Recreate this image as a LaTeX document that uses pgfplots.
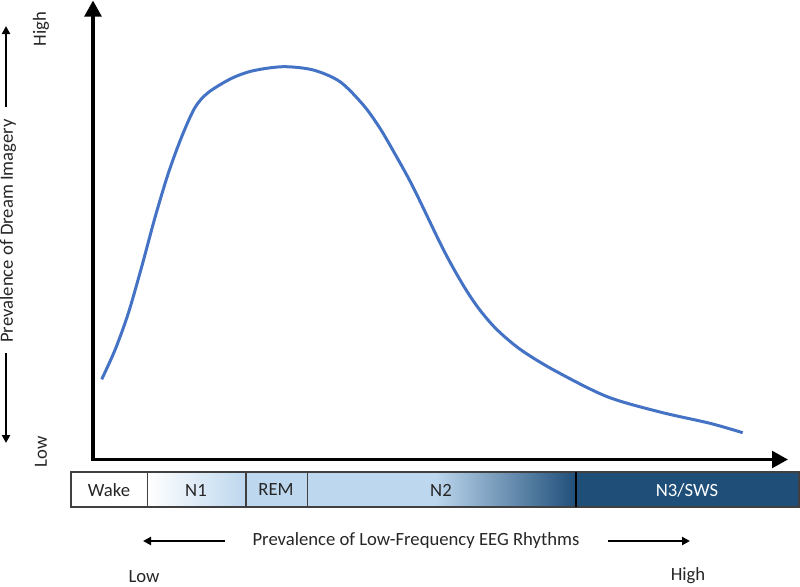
\documentclass[border=0pt]{standalone}
\usepackage{pgfplots}
\pgfplotsset{compat=1.18}
\usepackage{fontspec}
\setmainfont{Carlito}
\usetikzlibrary{arrows.meta}
\definecolor{curveblue}{HTML}{4472C4}
\definecolor{lightblue}{HTML}{BDD7EE}
\definecolor{darkblue}{HTML}{1F4E79}
\definecolor{boxline}{HTML}{404040}
\begin{document}
\begin{tikzpicture}
\begin{axis}[
  scale only axis, width=600pt, height=439.5pt,
  xmin=0, xmax=800, ymin=0, ymax=586, y dir=reverse,
  hide axis, clip=false,
]
\coordinate (tl) at (axis cs:0,0);
\coordinate (br) at (axis cs:800,586);
% stage bar
\fill[white] (axis cs:71,472) rectangle (axis cs:147.3,507);
\shade[left color=white, right color=lightblue] (axis cs:147.3,472) rectangle (axis cs:246,507);
\fill[lightblue] (axis cs:246,472) rectangle (axis cs:307.3,507);
\fill[lightblue] (axis cs:307.3,472) rectangle (axis cs:435,507);
\shade[left color=lightblue, right color=darkblue] (axis cs:435,472) rectangle (axis cs:576,507);
\fill[darkblue] (axis cs:576,472) rectangle (axis cs:799,507);
\draw[boxline, line width=1.1pt] (axis cs:71,472) rectangle (axis cs:799,507);
\draw[boxline, line width=1.1pt] (axis cs:147.3,472) -- (axis cs:147.3,507);
\draw[boxline, line width=1.1pt] (axis cs:246,472) -- (axis cs:246,507);
\draw[boxline, line width=1.1pt] (axis cs:307.3,472) -- (axis cs:307.3,507);
\draw[black, line width=1.1pt] (axis cs:576,472) -- (axis cs:576,507);
\begin{scope}[font=\fontsize{14}{16}\selectfont]
\node[text=black!85] at (axis cs:109,490) {Wake};
\node[text=black!85] at (axis cs:196,490) {N1};
\node[text=black!85] at (axis cs:276,490) {REM};
\node[text=black!85] at (axis cs:441,490) {N2};
\node[text=white] at (axis cs:687,490) {N3/SWS};
% bottom label
\node[text=black!85] at (axis cs:416,541) {Prevalence of Low-Frequency EEG Rhythms};
\node[text=black!85] at (axis cs:144,577) {Low};
\node[text=black!85] at (axis cs:688,576) {High};
% left label
\node[text=black!85, rotate=90] at (axis cs:8,231) {Prevalence of Dream Imagery};
\node[text=black!85, rotate=90] at (axis cs:41,29) {High};
\node[text=black!85, rotate=90] at (axis cs:41,452) {Low};
\end{scope}
% small arrows
\draw[black, line width=1.5pt, -{Triangle[length=6pt,width=6pt]}] (axis cs:225,541) -- (axis cs:143,541);
\draw[black, line width=1.5pt, -{Triangle[length=6pt,width=6pt]}] (axis cs:608,541) -- (axis cs:690,541);
\draw[black, line width=1.5pt, -{Triangle[length=6pt,width=6pt]}] (axis cs:6,107) -- (axis cs:6,26);
\draw[black, line width=1.5pt, -{Triangle[length=6pt,width=6pt]}] (axis cs:6,353) -- (axis cs:6,443);
% main axes
\draw[black, line width=2.5pt, {Triangle[length=12pt,width=12.5pt]}-{Triangle[length=12pt,width=12.5pt]}, line join=miter]
  (axis cs:93,0.5) -- (axis cs:93,459.5) -- (axis cs:788,459.5);
% curve
\addplot[smooth, curveblue, line width=2.25pt] coordinates {
(101.7,379.3) (115,350) (128.3,313.3) (141.7,266.7) (155,217.5)
(168.3,173.3) (181.7,136.7) (195,107.5) (208.3,92.5) (231.7,78.3)
(253.3,70.7) (283.3,66.7) (313.3,70) (340,81.7) (363.3,105)
(380,128.3) (396.7,157) (413.3,187.5) (440,242.8) (453.3,268.1)
(466.7,290.9) (480,310.2) (496.7,329.4) (520,349.2) (553.3,369.8)
(606.7,396.5) (660,412) (710,423.3) (742.7,432.7)
};
\end{axis}
\pgfresetboundingbox
\path[use as bounding box] (tl) rectangle (br);
\end{tikzpicture}
\end{document}
